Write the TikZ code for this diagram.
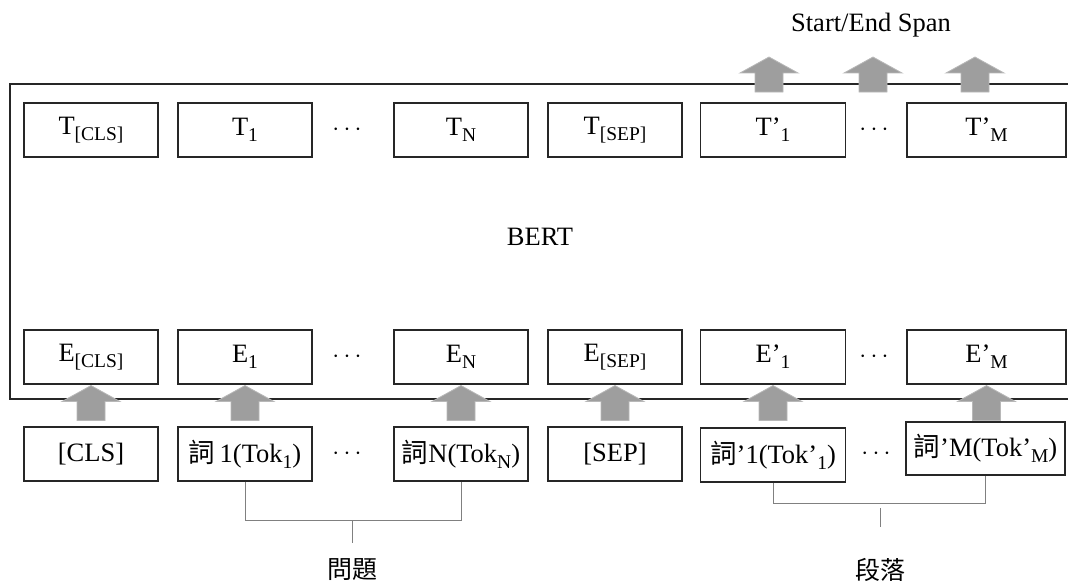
\documentclass[tikz,border=0pt]{standalone}
\usepackage{fontspec}
\setmainfont{Liberation Serif}
\newfontfamily\cjk{Noto Sans CJK TC}
\usetikzlibrary{calc}
\newcommand{\lowtxt}[1]{\raisebox{-0.24em}{\fontsize{19.5}{20}\selectfont #1}}
\tikzset{
  box/.style={draw=black!85, line width=1.1pt, minimum width=134pt, minimum height=54pt, inner sep=0pt, fill=white},
  wide/.style={minimum width=145pt},
  widest/.style={minimum width=159pt},
  lbl/.style={inner sep=0pt},
  brace/.style={draw=black!50, line width=0.9pt},
  blockup/.pic={\filldraw[fill=black!38, draw=black!28, line width=0.8pt]
    (0,0) -- (29,16) -- (14,16) -- (14,35) -- (-14,35) -- (-14,16) -- (-29,16) -- cycle;}
}
\begin{document}
\begin{tikzpicture}[x=1pt, y=-1pt, font=\fontsize{26.5}{30}\selectfont]
\useasboundingbox (0,0) rectangle (1068,586);
\clip (0,0) rectangle (1068,586);

% BERT encoder frame
\draw[draw=black!85, line width=1.1pt] (10,84) rectangle (1090,399);
\node[lbl] (bert) at (540,237) {BERT};

% output row
\node[box] (t1) at (91,130) {T\lowtxt{[CLS]}};
\node[box] (t2) at (245,130) {T\lowtxt{1}};
\node[lbl] (td1) at (347,130) {$\cdots$};
\node[box] (t3) at (461,130) {T\lowtxt{N}};
\node[box] (t4) at (615,130) {T\lowtxt{[SEP]}};
\node[box, wide] (t5) at (773,130) {T’\lowtxt{1}};
\node[lbl] (td2) at (874,130) {$\cdots$};
\node[box, widest] (t6) at (986.5,130) {T’\lowtxt{M}};

% embedding row
\node[box] (e1) at (91,357) {E\lowtxt{[CLS]}};
\node[box] (e2) at (245,357) {E\lowtxt{1}};
\node[lbl] (ed1) at (347,357) {$\cdots$};
\node[box] (e3) at (461,357) {E\lowtxt{N}};
\node[box] (e4) at (615,357) {E\lowtxt{[SEP]}};
\node[box, wide] (e5) at (773,357) {E’\lowtxt{1}};
\node[lbl] (ed2) at (874,357) {$\cdots$};
\node[box, widest] (e6) at (986.5,357) {E’\lowtxt{M}};

% input tokens
\node[box] (k1) at (91,454) {[CLS]};
\node[box] (k2) at (245,454) {{\cjk 詞}\,1(Tok\lowtxt{1})};
\node[lbl] (kd1) at (347,454) {$\cdots$};
\node[box] (k3) at (461,454) {{\cjk 詞}N(Tok\lowtxt{N})};
\node[box] (k4) at (615,454) {[SEP]};
\node[box, wide] (k5) at (773,455) {{\cjk 詞}’1(Tok’\lowtxt{1})};
\node[lbl] (kd2) at (876,454) {$\cdots$};
\node[box, minimum width=159pt, minimum height=53pt] (k6) at (985.5,448.5) {{\cjk 詞}’M(Tok’\lowtxt{M})};

% token -> embedding arrows
\foreach \n in {e1,e2,e3,e4,e5,e6}
  \pic at ($(\n.south)+(0,1)$) {blockup};

% output span arrows
\node[lbl] (span) at (871,25) {Start/End Span};
\pic at (769,57) {blockup};
\pic at (873,57) {blockup};
\pic at (975,57) {blockup};

% question / passage groupings
\coordinate (qj) at (352,520);
\coordinate (qt) at (352,543);
\node[lbl, font=\cjk\fontsize{25}{28}\selectfont] (q) at (352,570) {問題};
\draw[brace] (k2.south) -- (k2.south |- qj) -| (k3.south);
\draw[brace] (qj) -- (qt);

\coordinate (pj) at (880,503);
\coordinate (pa) at (880,508);
\coordinate (pt) at (880,527);
\node[lbl, font=\cjk\fontsize{25}{28}\selectfont] (p) at (880,570) {段落};
\draw[brace] (k5.south) -- (k5.south |- pj) -| (k6.south);
\draw[brace] (pa) -- (pt);
\end{tikzpicture}
\end{document}
